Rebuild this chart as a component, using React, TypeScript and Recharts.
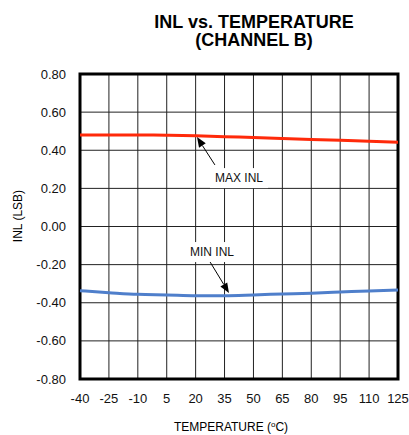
import {
  CartesianGrid,
  Line,
  LineChart,
  ReferenceArea,
  ReferenceLine,
  XAxis,
  YAxis,
} from 'recharts';

const temperatures = [-40, -25, -10, 5, 20, 35, 50, 65, 80, 95, 110, 125];
const maxInl = [0.48, 0.48, 0.48, 0.479, 0.476, 0.471, 0.467, 0.462, 0.457, 0.452, 0.447, 0.442];
const minInl = [-0.337, -0.347, -0.356, -0.359, -0.363, -0.363, -0.359, -0.354, -0.35, -0.344, -0.338, -0.333];
const yTicks = [-0.8, -0.6, -0.4, -0.2, 0, 0.2, 0.4, 0.6, 0.8];

const data = temperatures.map((t, i) => ({ t, max: maxInl[i], min: minInl[i] }));

const FONT = '"Liberation Sans", Arial, sans-serif';

function Arrow(props: any) {
  const { x1, y1, x2, y2 } = props;
  if (x1 == null) return null;
  const ang = Math.atan2(y2 - y1, x2 - x1);
  const len = 10;
  const w = 4;
  const bx = x2 - len * Math.cos(ang);
  const by = y2 - len * Math.sin(ang);
  const px = -Math.sin(ang) * w;
  const py = Math.cos(ang) * w;
  return (
    <g>
      <line x1={x1} y1={y1} x2={bx} y2={by} stroke="#000" strokeWidth={1} />
      <polygon
        points={`${x2},${y2} ${bx + px},${by + py} ${bx - px},${by - py}`}
        fill="#000"
      />
    </g>
  );
}

function BoxLabel({ viewBox, text, w }: any) {
  if (!viewBox) return null;
  const { x, y } = viewBox;
  return (
    <g>
      <rect x={x - w / 2} y={y - 10} width={w} height={20} fill="#fff" />
      <text
        x={x}
        y={y}
        dy="0.36em"
        textAnchor="middle"
        fontSize={12}
        fontFamily={FONT}
        fill="#111"
      >
        {text}
      </text>
    </g>
  );
}

export default function App() {
  return (
    <div style={{ position: 'absolute', left: 0, top: 0, width: 409, height: 435, background: '#fff' }}>
      <svg width={409} height={435} style={{ position: 'absolute', left: 0, top: 0 }}>
        <text x={254} y={27.5} textAnchor="middle" fontSize={18} fontWeight="bold" fontFamily={FONT}>
          INL vs. TEMPERATURE
        </text>
        <text x={254} y={46} textAnchor="middle" fontSize={18} fontWeight="bold" fontFamily={FONT}>
          (CHANNEL B)
        </text>
        <text
          x={22}
          y={216}
          textAnchor="middle"
          fontSize={12}
          fontFamily={FONT}
          transform="rotate(-90 22 216)"
        >
          INL (LSB)
        </text>
        <text x={231} y={431} textAnchor="middle" fontSize={12} fontFamily={FONT}>
          TEMPERATURE  (
          <tspan fontSize={8} dy={-4}>o</tspan>
          <tspan dy={4}>C)</tspan>
        </text>
      </svg>
      <div style={{ position: 'absolute', left: 0, top: 0 }}>
        <LineChart
          width={409}
          height={435}
          data={data}
          margin={{ top: 74, right: 11, bottom: 26, left: 0 }}
        >
          <CartesianGrid stroke="#222" strokeWidth={1} />
          <XAxis
            dataKey="t"
            type="number"
            domain={[-40, 125]}
            ticks={temperatures}
            interval={0}
            height={30}
            tickLine={false}
            axisLine={false}
            tickSize={0}
            tickMargin={15}
            tick={{ fontSize: 13, fill: '#111', fontFamily: FONT }}
          />
          <YAxis
            type="number"
            domain={[-0.8, 0.8]}
            ticks={yTicks}
            interval={0}
            width={80}
            tickLine={false}
            axisLine={false}
            tickSize={0}
            tickMargin={14}
            tickFormatter={(v: number) => v.toFixed(2)}
            tick={{ fontSize: 13, fill: '#111', fontFamily: FONT }}
          />
          <Line
            type="monotone"
            dataKey="max"
            stroke="#ff2a0a"
            strokeWidth={3}
            dot={false}
            isAnimationActive={false}
          />
          <Line
            type="monotone"
            dataKey="min"
            stroke="#4f7fcb"
            strokeWidth={3}
            dot={false}
            isAnimationActive={false}
          />
          <ReferenceArea
            x1={-40}
            x2={125}
            y1={-0.8}
            y2={0.8}
            fill="none"
            stroke="#000"
            strokeWidth={3}
            fillOpacity={0}
          />
          <ReferenceLine
            segment={[{ x: 30, y: 0.323 }, { x: 20.7, y: 0.469 }]}
            shape={<Arrow />}
          />
          <ReferenceLine
            segment={[{ x: 27.5, y: -0.186 }, { x: 37.3, y: -0.349 }]}
            shape={<Arrow />}
          />
          <ReferenceLine
            segment={[{ x: 42.5, y: 0.254 }, { x: 42.5, y: 0.254 }]}
            stroke="none"
            label={<BoxLabel text="MAX INL" w={58} />}
          />
          <ReferenceLine
            segment={[{ x: 28.5, y: -0.134 }, { x: 28.5, y: -0.134 }]}
            stroke="none"
            label={<BoxLabel text="MIN INL" w={56} />}
          />
        </LineChart>
      </div>
    </div>
  );
}
